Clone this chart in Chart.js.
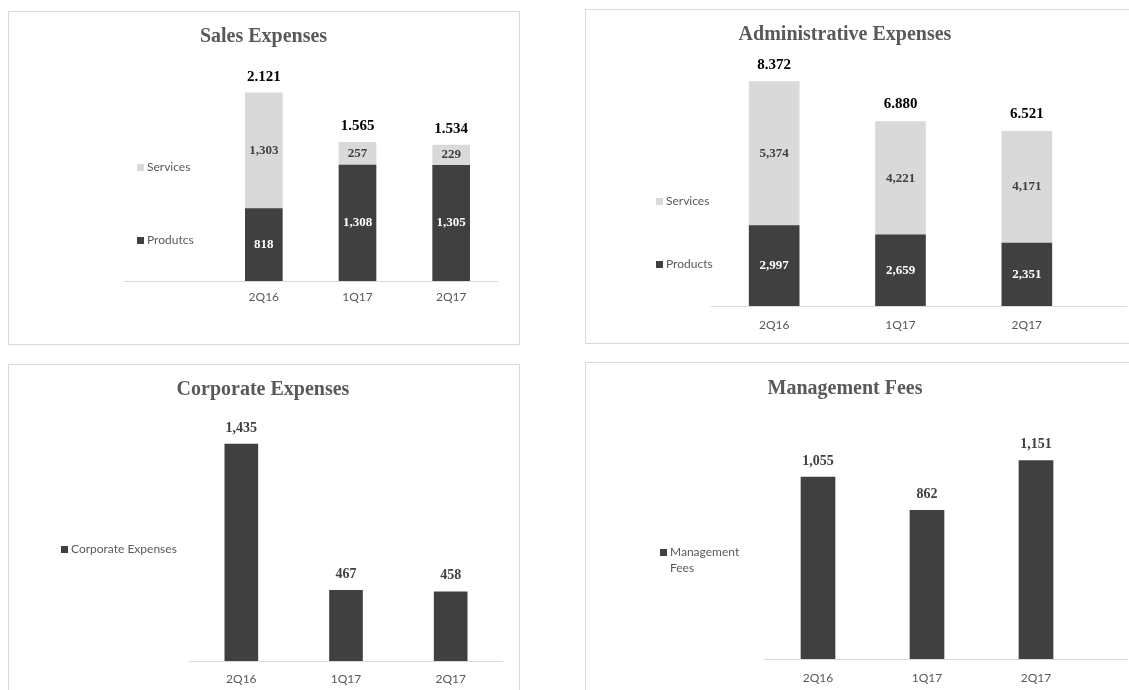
<!DOCTYPE html>
<html>
<head>
<meta charset="utf-8">
<script src="https://cdn.jsdelivr.net/npm/chart.js@4.4.0/dist/chart.umd.min.js"></script>
<style>
    body { margin: 0; width: 1129px; height: 690px; overflow: hidden; background: #fff; position: relative; }
    .panel { position: absolute; box-sizing: border-box; border: 1px solid #d9d9d9; }
    canvas { position: absolute; }
    .title { position: absolute; transform: translate(-50%, -50%); font: bold 20px "Liberation Serif", "Times New Roman", serif; color: #595959; white-space: nowrap; }
    .legend-item { position: absolute; font: 12px Lato, sans-serif; color: #595959; line-height: 16px; white-space: nowrap; }
    .legend-item .sq { position: absolute; left: 0; top: 4.5px; width: 7px; height: 7px; }
</style>
</head>
<body>
<div class="panel" style="left:8px; top:11px; width:512px; height:334px;"></div>
<div class="panel" style="left:585px; top:9px; width:600px; height:335px;"></div>
<div class="panel" style="left:8px; top:364px; width:512px; height:400px;"></div>
<div class="panel" style="left:585px; top:362px; width:600px; height:400px;"></div>

<canvas id="salesChart" width="509" height="331" style="left:9px; top:12px;"></canvas>
<canvas id="adminChart" width="560" height="332" style="left:586px; top:10px;"></canvas>
<canvas id="corpChart" width="509" height="340" style="left:9px; top:365px;"></canvas>
<canvas id="mgmtChart" width="560" height="340" style="left:586px; top:363px;"></canvas>

<script>
// data
const quarters = ['2Q16', '1Q17', '2Q17'];

const salesProducts = [818, 1308, 1305];
const salesServices = [1303, 257, 229];
const salesTotals = [2121, 1565, 1534];

const adminProducts = [2997, 2659, 2351];
const adminServices = [5374, 4221, 4171];
const adminTotals = [8372, 6880, 6521];

const corporateExpenses = [1435, 467, 458];
const managementFees = [1055, 862, 1151];

const DARK = '#404040';
const LIGHT = '#d9d9d9';
const GRID = '#d9d9d9';

const withComma = n => String(n).replace(/\B(?=(\d{3})+(?!\d))/g, ',');
const withDot = n => String(n).replace(/\B(?=(\d{3})+(?!\d))/g, '.');

// draws the labels inside the segments and the figure above each column
function labelsPlugin(cfg) {
    return {
        id: 'barLabels',
        afterDatasetsDraw(chart) {
            const ctx = chart.ctx;
            ctx.save();
            ctx.textAlign = 'center';
            ctx.textBaseline = 'middle';
            const sets = chart.data.datasets;
            if (cfg.inside) {
                ctx.font = cfg.insideFont;
                sets.forEach((ds, i) => {
                    chart.getDatasetMeta(i).data.forEach((bar, j) => {
                        ctx.fillStyle = ds.textColor;
                        ctx.fillText(withComma(ds.data[j]), bar.x, (bar.y + bar.base) / 2);
                    });
                });
            }
            const top = chart.getDatasetMeta(sets.length - 1);
            ctx.font = cfg.topFont;
            ctx.fillStyle = cfg.topColor;
            top.data.forEach((bar, j) => ctx.fillText(cfg.topText[j], bar.x, bar.y - cfg.topOffset));
            ctx.restore();
        }
    };
}

// horizontal category line, stretched like the Excel original
function baselinePlugin(extLeft, extRight) {
    return {
        id: 'baseline',
        beforeDatasetsDraw(chart) {
            const { ctx, chartArea } = chart;
            const y = Math.round(chart.scales.y.getPixelForValue(0)) + 0.5;
            ctx.save();
            ctx.strokeStyle = GRID;
            ctx.lineWidth = 1;
            ctx.beginPath();
            ctx.moveTo(chartArea.left - extLeft, y);
            ctx.lineTo(chartArea.right + extRight, y);
            ctx.stroke();
            ctx.restore();
        }
    };
}

function addTitle(text, x, y) {
    const el = document.createElement('div');
    el.className = 'title';
    el.style.left = x + 'px';
    el.style.top = y + 'px';
    el.textContent = text;
    document.body.appendChild(el);
}

function addLegend(chart, items) {
    // items: [{x, y, textX}] from top to bottom, datasets are listed in reverse
    const sets = chart.data.datasets.slice().reverse();
    sets.forEach((ds, i) => {
        const it = items[i];
        const el = document.createElement('div');
        el.className = 'legend-item';
        el.style.left = it.x + 'px';
        el.style.top = (it.y - 8) + 'px';
        el.innerHTML = `<span class="sq" style="background:${ds.backgroundColor}"></span>` +
            `<div style="margin-left:${it.textX - it.x}px">${(it.lines || [ds.label]).join('<br>')}</div>`;
        document.body.appendChild(el);
    });
}

function makeChart(id, s) {
    return new Chart(document.getElementById(id), {
        type: 'bar',
        data: { labels: quarters, datasets: s.datasets },
        options: {
            responsive: false,
            animation: false,
            layout: { padding: s.padding },
            datasets: { bar: { barThickness: s.barThickness, borderWidth: 0 } },
            scales: {
                x: {
                    stacked: true,
                    grid: { display: false, drawTicks: false },
                    border: { display: false },
                    ticks: { color: '#595959', padding: s.tickPad, font: { family: 'Lato', size: 12 } },
                    afterFit: sc => { sc.height = 30; }
                },
                y: { stacked: true, display: false, min: 0, max: s.max }
            },
            plugins: { legend: { display: false }, tooltip: { enabled: false }, title: { display: false } }
        },
        plugins: [baselinePlugin(s.ext[0], s.ext[1]), labelsPlugin(s.labels)]
    });
}

// Sales Expenses
const sales = makeChart('salesChart', {
    datasets: [
        { label: 'Produtcs', data: salesProducts, backgroundColor: DARK, textColor: '#ffffff' },
        { label: 'Services', data: salesServices, backgroundColor: LIGHT, textColor: DARK }
    ],
    padding: { left: 208, right: 20, top: 47.3, bottom: 32 },
    max: 2500, barThickness: 37, tickPad: 9, ext: [93, 0],
    labels: { inside: true, insideFont: 'bold 13px "Liberation Serif"', topFont: 'bold 15px "Liberation Serif"',
              topColor: '#000000', topText: salesTotals.map(withDot), topOffset: 16 }
});
addTitle('Sales Expenses', 263.5, 35);
addLegend(sales, [{ x: 137, y: 167, textX: 147 }, { x: 137, y: 240, textX: 147 }]);

// Administrative Expenses
const admin = makeChart('adminChart', {
    datasets: [
        { label: 'Products', data: adminProducts, backgroundColor: DARK, textColor: '#ffffff' },
        { label: 'Services', data: adminServices, backgroundColor: LIGHT, textColor: DARK }
    ],
    padding: { left: 125, right: 56, top: 28, bottom: 6 },
    max: 10000, barThickness: 50, tickPad: 12, ext: [0, 37],
    labels: { inside: true, insideFont: 'bold 13px "Liberation Serif"', topFont: 'bold 15px "Liberation Serif"',
              topColor: '#000000', topText: adminTotals.map(withDot), topOffset: 17 }
});
addTitle('Administrative Expenses', 845, 33);
addLegend(admin, [{ x: 656, y: 201, textX: 666 }, { x: 656, y: 264, textX: 666 }]);

// Corporate Expenses
const corp = makeChart('corpChart', {
    datasets: [{ label: 'Corporate Expenses', data: corporateExpenses, backgroundColor: DARK }],
    padding: { left: 180, right: 15, top: 54.1, bottom: 14 },
    max: 1600, barThickness: 33, tickPad: 11, ext: [0, 0],
    labels: { inside: false, topFont: 'bold 14px "Liberation Serif"', topColor: DARK,
              topText: corporateExpenses.map(withComma), topOffset: 16 }
});
addTitle('Corporate Expenses', 263, 388);
addLegend(corp, [{ x: 61, y: 549, textX: 71 }]);

// Management Fees
const mgmt = makeChart('mgmtChart', {
    datasets: [{ label: 'Management Fees', data: managementFees, backgroundColor: DARK }],
    padding: { left: 177.5, right: 55.5, top: 54.6, bottom: 14 },
    max: 1400, barThickness: 34, tickPad: 12, ext: [0, 37],
    labels: { inside: false, topFont: 'bold 14px "Liberation Serif"', topColor: DARK,
              topText: managementFees.map(withComma), topOffset: 16 }
});
addTitle('Management Fees', 845, 387);
addLegend(mgmt, [{ x: 660, y: 552, textX: 670, lines: ['Management', 'Fees'] }]);
</script>
</body>
</html>
